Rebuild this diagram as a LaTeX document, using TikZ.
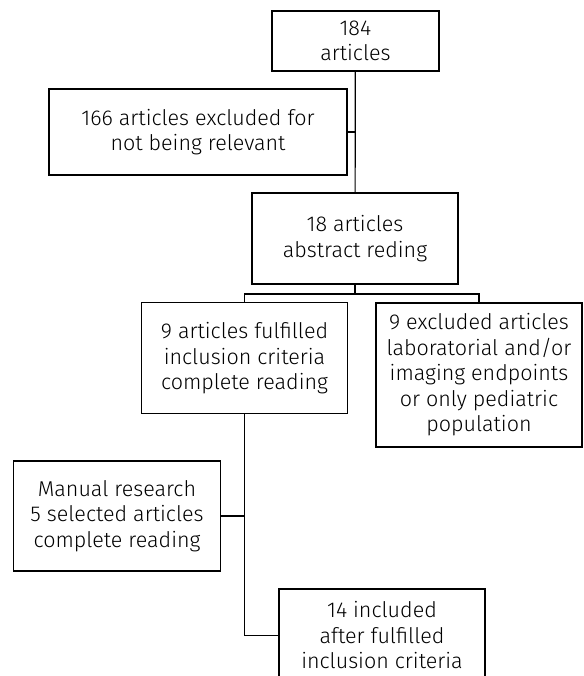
\documentclass[tikz,border=0pt]{standalone}
\usepackage{fontspec}
\setmainfont{Fira Sans}[UprightFont=* Light]
\usepackage{tikz}
\usetikzlibrary{positioning, calc}

\begin{document}
\begin{tikzpicture}[
x=1pt, y=-1pt,
box/.style={rectangle, draw, line width=1.2pt, align=center, inner sep=0pt,
  font=\fontsize{21.5}{25.5}\selectfont},
link/.style={line width=1.2pt}
]
\useasboundingbox (0,0) rectangle (583,676);
\clip (0,0) rectangle (583,676);

% Screening
\node[box, minimum width=167pt, minimum height=60pt] (n184) at (355.4,41) {184\\articles};
\node[box, minimum width=298pt, minimum height=86pt] (ex166) at (198,132) {166 articles excluded for\\not being relevant};
\node[box, minimum width=206pt, minimum height=91pt] (n18) at (355,238.5) {18 articles\\abstract reding};

% Eligibility
\coordinate (split) at (355,294);
\node[box, minimum width=206pt, minimum height=111pt] (n9in) at (244.5,358.3) {9 articles fulfilled\\inclusion criteria\\complete reading};
\node[box, minimum width=206pt, minimum height=144pt] (ex9) at (479,375) {9 excluded articles\\laboratorial and/or\\imaging endpoints\\or only pediatric\\population};

% Inclusion
\node[box, minimum width=207pt, minimum height=110pt] (manual) at (117,516) {Manual research\\5 selected articles\\complete reading};
\node[box, minimum width=206pt, minimum height=93pt] (n14) at (382,635.5) {14 included\\after fulfilled\\inclusion criteria};

% Connectors
\draw[link] (n184) -- (n18);
\draw[link] (ex166.east) -- (ex166.east -| n184.south);
\draw[link] (n18) -- (split);
\draw[link] (n9in.north) |- (split) -| (ex9.north);
\draw[link] (n9in.south) |- (n14.west);
\draw[link] (manual.east) -- (manual.east -| n9in.south);
\end{tikzpicture}
\end{document}
